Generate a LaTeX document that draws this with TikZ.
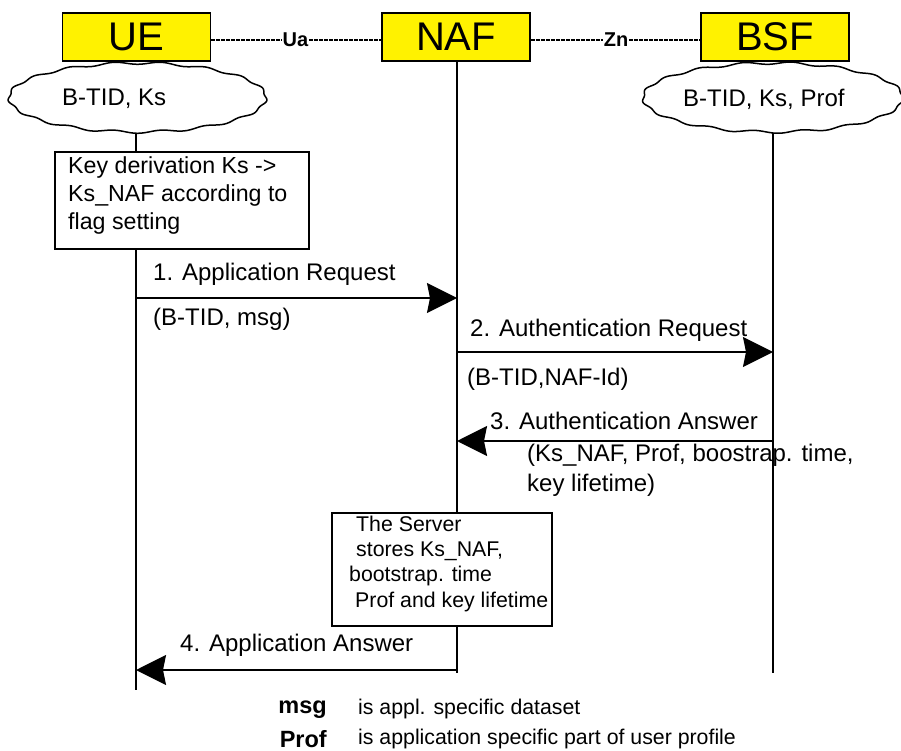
\documentclass[tikz,border=0pt]{standalone}
\usepackage{fontspec}
\setmainfont{Liberation Sans}
\usetikzlibrary{shapes.geometric,arrows.meta}
\begin{document}
\begin{tikzpicture}[x=1pt,y=-1pt,
  ent/.style={draw, line width=1.8pt, fill=yellow, minimum width=148pt, minimum height=48pt, inner sep=0pt, font=\fontsize{40}{44}\selectfont},
  iface/.style={inner sep=1pt, font=\fontsize{20}{22}\selectfont\bfseries},
  dsh/.style={line width=1.3pt, dash pattern=on 4pt off 1pt},
  store/.style={ellipse, inner sep=0pt},
  wobble/.style={line width=1.5pt, line join=round},
  life/.style={line width=1.5pt},
  msgarrow/.style={line width=1.8pt, -{Stealth[length=30pt,width=30pt,inset=3pt]}},
  txt/.style={inner sep=0pt, anchor=west, font=\fontsize{24}{26}\selectfont},
  kdtxt/.style={txt, font=\fontsize{23.2}{26}\selectfont},
  stxt/.style={txt, font=\fontsize{21.3}{24}\selectfont},
  btxt/.style={inner sep=0pt, anchor=east, font=\fontsize{23.5}{26}\selectfont\bfseries},
  procbox/.style={draw, fill=white, line width=1.5pt, inner sep=0pt}
]
\useasboundingbox (0,0) rectangle (901,751);

% entities
\node[ent] (ue)  at (136.5,37) {UE};
\node[ent] (naf) at (456,37) {NAF};
\node[ent] (bsf) at (775,37) {BSF};

\node[iface] (ua) at (295.5,40) {Ua};
\node[iface] (zn) at (616,40) {Zn};
\draw[dsh] (ue.east |- ua.center) -- (ua.west);
\draw[dsh] (ua.east) -- (naf.west |- ua.center);
\draw[dsh] (naf.east |- zn.center) -- (zn.west);
\draw[dsh] (zn.east) -- (bsf.west |- zn.center);

% storage clouds
\node[store, minimum width=259pt, minimum height=71pt] (uecl) at (137.5,97.5) {};
\draw[wobble, shift={(uecl.center)}] plot[domain=0:360, samples=241, smooth cycle]
  ({(128.5+1.3*sin(17*\x))*cos(\x)}, {(34.5+1.3*sin(17*\x))*sin(\x)});
\node[txt] at (62,99) {B-TID, Ks};
\node[store, minimum width=262pt, minimum height=71pt] (bsfcl) at (773,97.5) {};
\draw[wobble, shift={(bsfcl.center)}] plot[domain=0:360, samples=241, smooth cycle]
  ({(130+1.3*sin(17*\x+40))*cos(\x)}, {(34.5+1.3*sin(17*\x+40))*sin(\x)});
\node[txt] at (683,99) {B-TID, Ks, Prof};

% lifelines
\coordinate (ueend)  at (136,690);
\coordinate (nafend) at (457,673);
\coordinate (bsfend) at (773,673);
\draw[life] (uecl.south -| ueend) -- (ueend);
\draw[life] (naf.south -| nafend) -- (nafend);
\draw[life] (bsfcl.south -| bsfend) -- (bsfend);

% key derivation box
\node[procbox, minimum width=254pt, minimum height=97pt] (kd) at (182,200.5) {};
\node[kdtxt] at (68,168) {Key derivation Ks ->};
\node[kdtxt] at (68,196) {Ks\_NAF according to};
\node[kdtxt] at (68,224) {flag setting};

% messages
\coordinate (m1s) at (136,298); \coordinate (m1e) at (457,298);
\draw[msgarrow] (m1s) -- (m1e);
\node[txt] at (153,274) {1. Application Request};
\node[txt] at (153,319) {(B-TID, msg)};

\coordinate (m2s) at (457,352); \coordinate (m2e) at (773,352);
\draw[msgarrow] (m2s) -- (m2e);
\node[txt] at (470,330) {2. Authentication Request};
\node[txt] at (467,379) {(B-TID,NAF-Id)};

\coordinate (m3s) at (773,441); \coordinate (m3e) at (457,441);
\draw[msgarrow] (m3s) -- (m3e);
\node[txt] at (490,421) {3. Authentication Answer};
\node[txt] at (527,455) {(Ks\_NAF, Prof, boostrap. time,};
\node[txt] at (527,485) {key lifetime)};

% server box
\node[procbox, minimum width=220pt, minimum height=113pt] (srv) at (442,569.5) {};
\node[stxt] at (356,524) {The Server};
\node[stxt] at (356,551) {stores Ks\_NAF,};
\node[stxt] at (349,576) {bootstrap. time};
\node[stxt] at (355,602) {Prof and key lifetime};

\coordinate (m4s) at (457,670); \coordinate (m4e) at (136,670);
\draw[msgarrow] (m4s) -- (m4e);
\node[txt] at (180,645) {4. Application Answer};

% legend
\node[btxt] at (327,710) {msg};
\node[stxt] at (358,709) {is appl. specific dataset};
\node[btxt] at (327,739) {Prof};
\node[stxt] at (358,739) {is application specific part of user profile};
\end{tikzpicture}
\end{document}
